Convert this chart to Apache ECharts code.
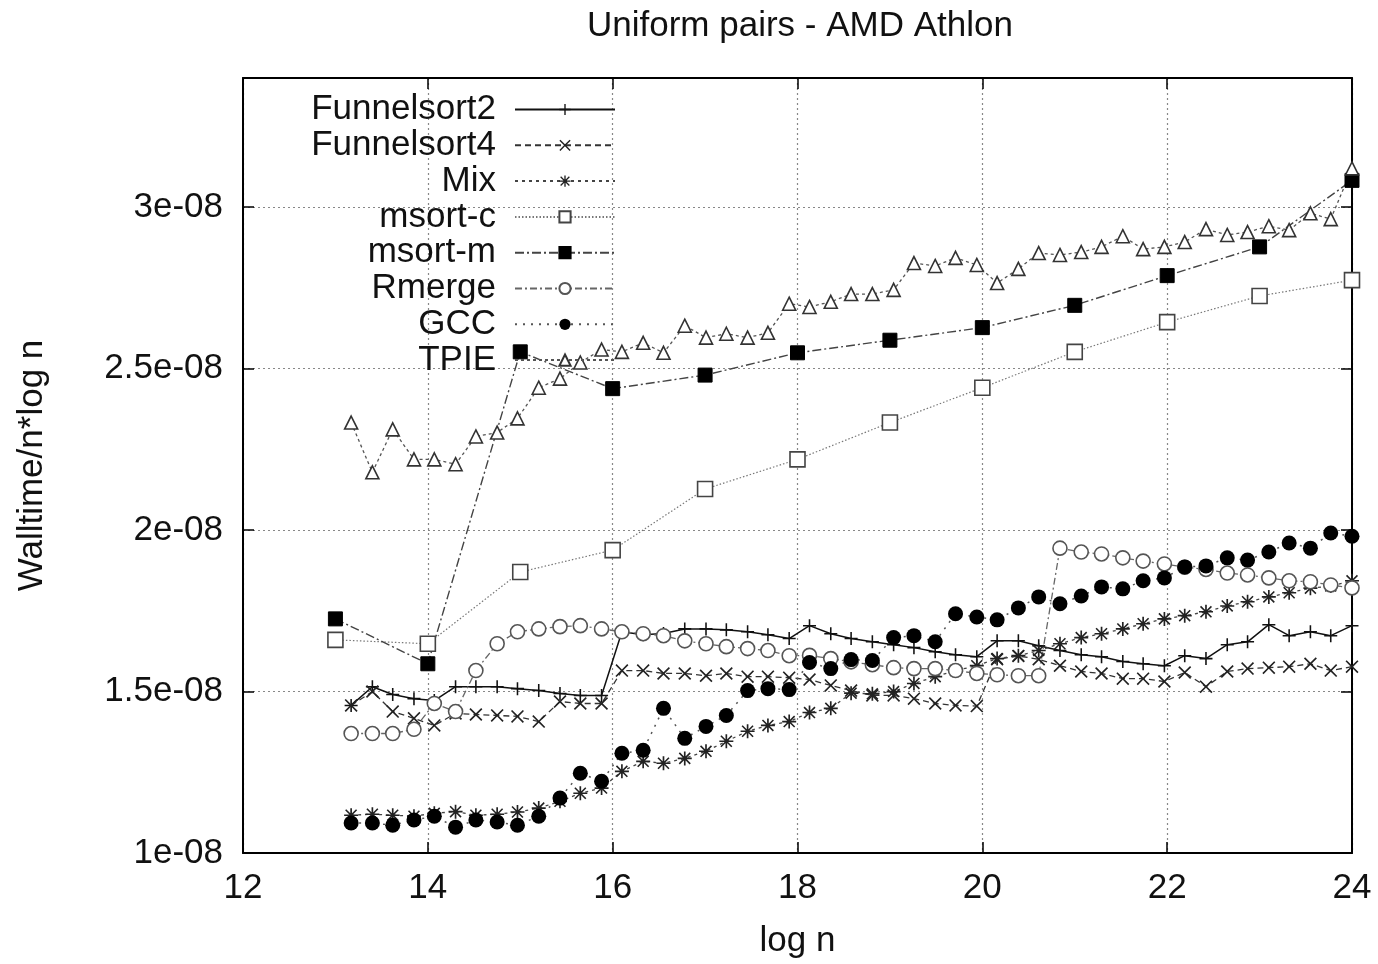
<!DOCTYPE html>
<html>
<head>
<meta charset="utf-8">
<script src="https://cdn.jsdelivr.net/npm/echarts@6/dist/echarts.min.js"></script>
<style>
html,body{margin:0;padding:0;background:#fff;}
#chart{width:1378px;height:964px;}
</style>
</head>
<body>
<div id="chart"></div>
<script>
// x positions (log n) of the dense measurement series
const logN = [13.17,13.40,13.62,13.85,14.07,14.30,14.52,14.75,14.97,15.20,15.43,15.65,15.88,16.10,16.33,16.55,16.78,17.01,17.23,17.46,17.68,17.91,18.13,18.36,18.58,18.81,19.04,19.26,19.49,19.71,19.94,20.16,20.39,20.61,20.84,21.07,21.29,21.52,21.74,21.97,22.19,22.42,22.65,22.87,23.10,23.32,23.55,23.77,24.00];
// x positions of msort series
const logNInt = [13,14,15,16,17,18,19,20,21,22,23,24];

// values in units of 1e-08
const funnelsort2 = [1.457,1.515,1.491,1.478,1.472,1.515,1.515,1.515,1.509,1.503,1.494,1.488,1.488,1.685,1.676,1.680,1.694,1.694,1.691,1.685,1.676,1.664,1.704,1.679,1.664,1.654,1.645,1.636,1.623,1.614,1.608,1.657,1.657,1.642,1.627,1.614,1.608,1.593,1.586,1.580,1.611,1.602,1.645,1.654,1.707,1.673,1.685,1.673,1.704];
const funnelsort4 = [1.457,1.500,1.438,1.417,1.395,1.432,1.429,1.426,1.423,1.407,1.469,1.463,1.463,1.565,1.565,1.556,1.556,1.549,1.556,1.546,1.546,1.543,1.537,1.519,1.503,1.488,1.488,1.478,1.463,1.457,1.455,1.600,1.610,1.600,1.580,1.562,1.556,1.540,1.540,1.531,1.559,1.515,1.562,1.571,1.574,1.577,1.586,1.565,1.577];
const mix = [1.117,1.120,1.117,1.114,1.123,1.128,1.117,1.120,1.127,1.139,1.160,1.185,1.201,1.253,1.284,1.278,1.293,1.315,1.346,1.377,1.395,1.407,1.435,1.448,1.495,1.493,1.500,1.525,1.546,1.565,1.580,1.602,1.611,1.627,1.648,1.667,1.679,1.694,1.710,1.725,1.735,1.747,1.765,1.778,1.793,1.806,1.820,1.827,1.843];
const msortC = [1.660,1.648,1.870,1.938,2.127,2.219,2.333,2.441,2.552,2.644,2.725,2.774];
const msortM = [1.725,1.586,2.552,2.438,2.480,2.549,2.588,2.627,2.696,2.788,2.877,3.083];
const rmerge = [1.370,1.370,1.370,1.383,1.463,1.438,1.565,1.648,1.685,1.694,1.701,1.704,1.694,1.685,1.679,1.673,1.657,1.648,1.639,1.633,1.627,1.611,1.612,1.602,1.592,1.583,1.574,1.571,1.571,1.565,1.556,1.552,1.549,1.549,1.944,1.932,1.926,1.914,1.904,1.895,1.885,1.878,1.867,1.861,1.852,1.843,1.840,1.830,1.821];
const gcc = [1.093,1.093,1.086,1.102,1.114,1.080,1.102,1.096,1.086,1.114,1.170,1.247,1.222,1.309,1.318,1.448,1.355,1.392,1.426,1.503,1.509,1.506,1.590,1.571,1.599,1.596,1.667,1.673,1.654,1.741,1.731,1.722,1.759,1.793,1.772,1.796,1.824,1.818,1.843,1.852,1.886,1.889,1.914,1.907,1.932,1.960,1.944,1.991,1.981];
const tpie = [2.333,2.179,2.312,2.219,2.219,2.204,2.290,2.302,2.346,2.441,2.469,2.519,2.559,2.552,2.580,2.549,2.633,2.596,2.608,2.596,2.611,2.701,2.691,2.707,2.731,2.731,2.744,2.827,2.818,2.843,2.821,2.765,2.809,2.858,2.852,2.861,2.877,2.910,2.870,2.877,2.892,2.932,2.914,2.923,2.941,2.929,2.981,2.963,3.120];

const UNIT = 1e-8;
const xTicks = [12,14,16,18,20,22,24];
const yTickLabels = ['1e-08','1.5e-08','2e-08','2.5e-08','3e-08'];

const FONT = '"Liberation Sans", Arial, sans-serif';
const FS = 35;

function pts(xs, ys){ return xs.map((x,i)=>[x, ys[i]*UNIT]); }

const PLUS = 'path://M4.4,0H5.6V4.4H10V5.6H5.6V10H4.4V5.6H0V4.4H4.4Z';
const CROSS = 'path://M0,0.9L0.9,0L5,4.1L9.1,0L10,0.9L5.9,5L10,9.1L9.1,10L5,5.9L0.9,10L0,9.1L4.1,5Z';
const STAR = 'path://M4.4,0H5.6V10H4.4Z M0,4.4H10V5.6H0Z M0.7,1.5L1.5,0.7L9.3,8.5L8.5,9.3Z M8.5,0.7L9.3,1.5L1.5,9.3L0.7,8.5Z';

function mk(name, data, opt){
  return Object.assign({
    name, type:'line', data, symbolSize:13, showAllSymbol:true,
    animation:false, silent:true
  }, opt);
}

const series = [
  mk('Funnelsort2', pts(logN, funnelsort2), {
    symbol:PLUS, symbolSize:13,
    lineStyle:{color:'#111', width:1.5, type:'solid'},
    itemStyle:{color:'#111'}
  }),
  mk('Funnelsort4', pts(logN, funnelsort4), {
    symbol:CROSS, symbolSize:13,
    lineStyle:{color:'#333', width:1.3, type:[6,4]},
    itemStyle:{color:'#222'}
  }),
  mk('Mix', pts(logN, mix), {
    symbol:STAR, symbolSize:14,
    lineStyle:{color:'#444', width:1.3, type:[3,4]},
    itemStyle:{color:'#222'}
  }),
  mk('msort-c', pts(logNInt, msortC), {
    symbol:'rect', symbolSize:15,
    lineStyle:{color:'#777', width:1.2, type:[1.5,2]},
    itemStyle:{color:'#fff', borderColor:'#444', borderWidth:1.6}
  }),
  mk('msort-m', pts(logNInt, msortM), {
    symbol:'rect', symbolSize:14,
    lineStyle:{color:'#444', width:1.4, type:[9,3,2,3]},
    itemStyle:{color:'#000', borderColor:'#000', borderWidth:1}
  }),
  mk('Rmerge', pts(logN, rmerge), {
    symbol:'circle', symbolSize:14,
    lineStyle:{color:'#666', width:1.3, type:[7,3,2,3]},
    itemStyle:{color:'#fff', borderColor:'#555', borderWidth:1.6}
  }),
  mk('GCC', pts(logN, gcc), {
    symbol:'circle', symbolSize:15,
    lineStyle:{color:'#555', width:1.5, type:[2,6]},
    itemStyle:{color:'#000'}
  }),
  mk('TPIE', pts(logN, tpie), {
    symbol:'triangle', symbolSize:13,
    lineStyle:{color:'#555', width:1.3, type:[3,3]},
    itemStyle:{color:'#fff', borderColor:'#333', borderWidth:1.6}
  })
];

function yFmt(v){
  const m = Math.round(v/UNIT*10)/10;
  const s = (Math.abs(m - Math.round(m)) < 1e-9) ? String(Math.round(m)) : m.toFixed(1);
  return s + 'e-08';
}

const axisCommon = {
  axisLine:{show:true, onZero:false, lineStyle:{color:'#000', width:2}},
  axisTick:{show:true, inside:true, length:11, lineStyle:{color:'#000', width:1.5}}
};

const option = {
  backgroundColor:'#fff',
  animation:false,
  title:{
    text:'Uniform pairs - AMD Athlon', left:582, top:4,
    textStyle:{fontFamily:FONT, fontSize:FS, fontWeight:'normal', color:'#111'}
  },
  legend:{
    orient:'vertical', left:300, top:92, padding:0,
    itemWidth:100, itemHeight:14, itemGap:0.8, align:'right',
    selectedMode:false,
    textStyle:{fontFamily:FONT, fontSize:FS, color:'#111', width:196, align:'right', lineHeight:34, padding:[0,14,0,0]},
    data:['Funnelsort2','Funnelsort4','Mix','msort-c','msort-m','Rmerge','GCC','TPIE']
  },
  grid:{left:243, right:26, top:78, bottom:109, containLabel:false},
  xAxis:[
    Object.assign({
      type:'value', min:12, max:24, interval:2, position:'bottom',
      name:'log n', nameLocation:'middle', nameGap:71,
      nameTextStyle:{fontFamily:FONT, fontSize:FS, color:'#111'},
      axisLabel:{fontFamily:FONT, fontSize:FS, color:'#111', margin:18,
        formatter:v=> xTicks.indexOf(v) >= 0 ? String(v) : ''},
      splitLine:{show:true, lineStyle:{color:'#888', width:1.2, type:[2,3]}}
    }, axisCommon),
    Object.assign({
      type:'value', min:12, max:24, interval:2, position:'top',
      axisLabel:{show:false}, splitLine:{show:false}
    }, axisCommon)
  ],
  yAxis:[
    Object.assign({
      type:'value', min:1*UNIT, max:3.4*UNIT, interval:0.5*UNIT, position:'left',
      name:'Walltime/n*log n', nameLocation:'middle', nameGap:193,
      nameTextStyle:{fontFamily:FONT, fontSize:FS, color:'#111'},
      axisLabel:{fontFamily:FONT, fontSize:FS, color:'#111', margin:20, showMaxLabel:false,
        formatter:v=>{ const s = yFmt(v); return yTickLabels.indexOf(s) >= 0 ? s : ''; }},
      splitLine:{show:true, lineStyle:{color:'#888', width:1.2, type:[2,3]}}
    }, axisCommon),
    Object.assign({
      type:'value', min:1*UNIT, max:3.4*UNIT, interval:0.5*UNIT, position:'right',
      axisLabel:{show:false}, splitLine:{show:false}
    }, axisCommon)
  ],
  series: series
};

const chart = echarts.init(document.getElementById('chart'), null, {renderer:'canvas'});
chart.setOption(option);
</script>
</body>
</html>
